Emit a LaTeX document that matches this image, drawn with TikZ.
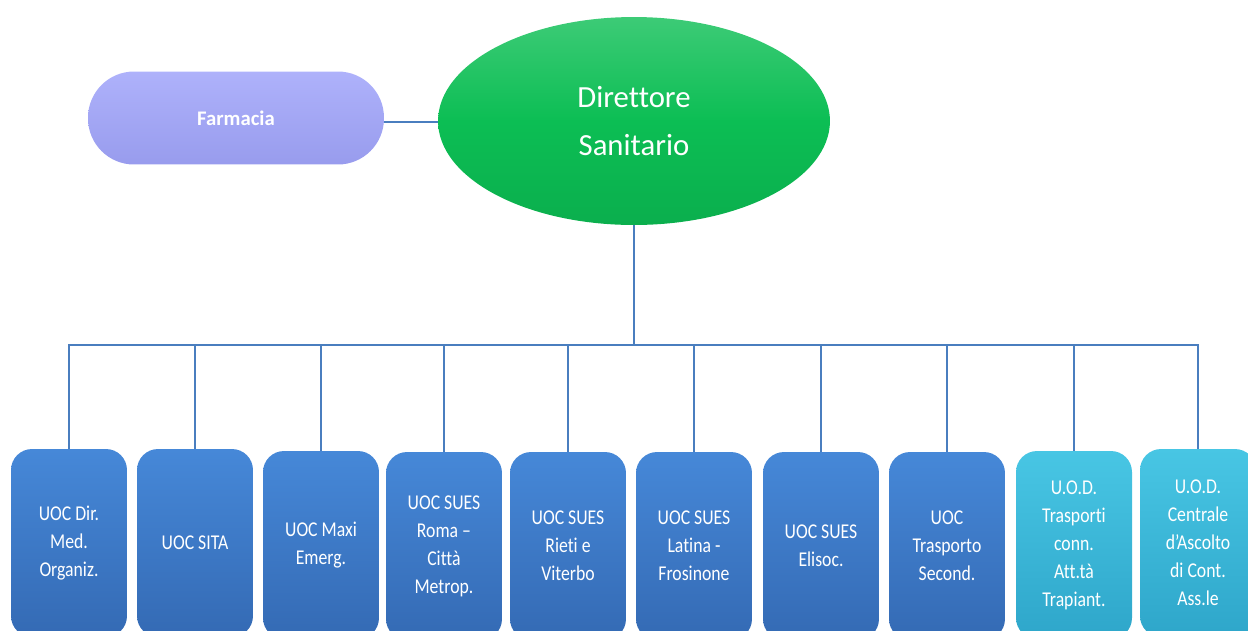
\documentclass[tikz,border=0pt]{standalone}
\usepackage{fontspec}
\setmainfont{Carlito}[Ligatures=NoCommon]
\newfontfamily\boxfont[FakeStretch=0.84,Ligatures=NoCommon]{Carlito}
\usetikzlibrary{shapes.geometric}
\usetikzlibrary{positioning}
\definecolor{uoctop}{RGB}{70,136,216}
\definecolor{uocbot}{RGB}{52,106,180}
\definecolor{uodtop}{RGB}{72,198,228}
\definecolor{uodbot}{RGB}{46,166,202}
\definecolor{dirgreen}{RGB}{12,190,84}
\definecolor{farmlilac}{RGB}{160,164,250}
\definecolor{linkblue}{RGB}{74,126,191}
\begin{document}
\begin{tikzpicture}[x=0.02cm,y=-0.02cm,
  uoc/.style={rounded corners=0.42cm,minimum width=2.32cm,minimum height=3.76cm,inner sep=2pt,
    top color=uoctop,bottom color=uocbot,text=white,align=center,
    font=\boxfont\fontsize{12}{15.9}\selectfont},
  uod/.style={uoc,top color=uodtop,bottom color=uodbot},
  link/.style={draw=linkblue,line width=0.8pt}]
\useasboundingbox (0,0) rectangle (1248,630);
\clip (0,0) rectangle (1248,630);
  \node[ellipse,minimum width=7.84cm,minimum height=4.16cm,inner sep=0pt,
    top color=dirgreen!80!white,bottom color=dirgreen!92!black,middle color=dirgreen,
    text=white,align=center,font=\fontsize{17.5}{27}\selectfont] (dir) at (634,121) {Direttore\\Sanitario};
  \node[rounded corners=0.92cm,minimum width=5.92cm,minimum height=1.86cm,
    top color=farmlilac!85!white,bottom color=farmlilac!95!black,
    text=white,font=\bfseries\fontsize{11.8}{14}\selectfont] (farm) at (236,118) {Farmacia};
  \node[uoc] (1) at (69,543) {UOC Dir.\\Med.\\Organiz.};
  \node[uoc] (2) at (195,543) {UOC SITA};
  \node[uoc] (3) at (321,545) {UOC Maxi\\Emerg.};
  \node[uoc] (4) at (444,546) {UOC SUES\\Roma –\\Città\\Metrop.};
  \node[uoc] (5) at (568,546) {UOC SUES\\Rieti e\\Viterbo};
  \node[uoc] (6) at (694,546) {UOC SUES\\Latina -\\Frosinone};
  \node[uoc] (7) at (821,546) {UOC SUES\\Elisoc.};
  \node[uoc] (8) at (947,546) {UOC\\Trasporto\\Second.};
  \node[uod] (9) at (1074,545) {U.O.D.\\Trasporti\\conn.\\Att.tà\\Trapiant.};
  \node[uod] (10) at (1198,543) {U.O.D.\\Centrale\\d’Ascolto\\di Cont.\\Ass.le};
\coordinate (bus) at (634,345);
\coordinate (farmlink) at (farm.east |- 0,122);
  \draw[link](farmlink)--(farmlink -| dir.west);
  \draw[link](dir.south)--(bus);
  \foreach \n in {1,...,10}
    \draw[link](\n.north)|-(bus);
  \end{tikzpicture}
\end{document}
